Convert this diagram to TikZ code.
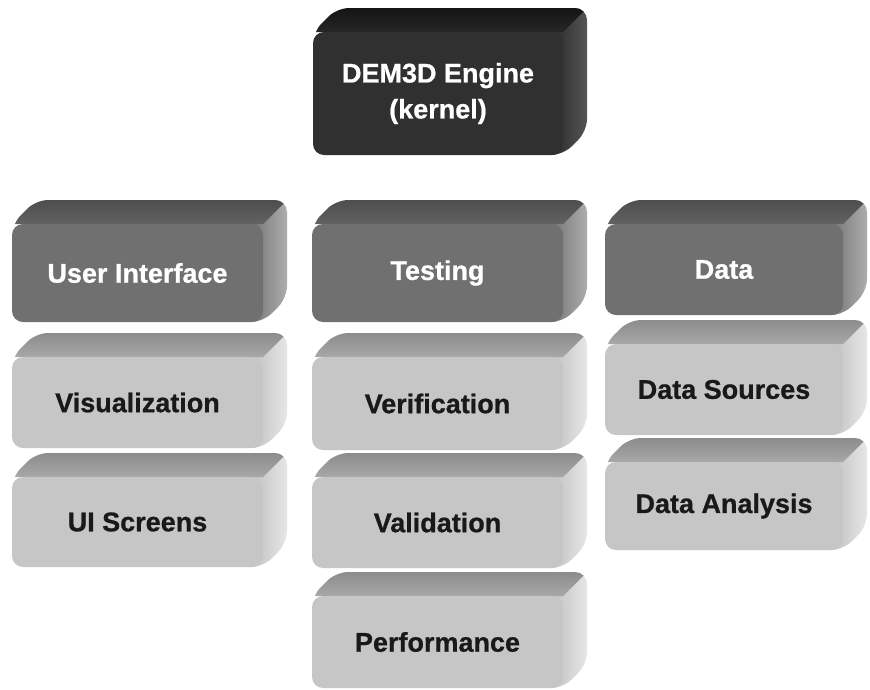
\documentclass[tikz,border=0pt]{standalone}
\usepackage{fontspec}
\setmainfont[BoldFeatures={FakeBold=0.8}]{Liberation Sans}
\usetikzlibrary{calc}

% colour schemes: k = kernel (black), m = group heads (dark grey), l = items (light grey)
\definecolor{kfront}{HTML}{303030}
\definecolor{ktopA}{HTML}{151515}
\definecolor{ktopB}{HTML}{262626}
\definecolor{kside}{HTML}{2A2A2A}
\definecolor{mfront}{HTML}{707070}
\definecolor{mtopA}{HTML}{4E4E4E}
\definecolor{mtopB}{HTML}{626262}
\definecolor{mside}{HTML}{8A8A8A}
\definecolor{lfront}{HTML}{C6C6C6}
\definecolor{ltopA}{HTML}{8C8C8C}
\definecolor{ltopB}{HTML}{A8A8A8}
\definecolor{lside}{HTML}{D6D6D6}

\tikzset{
  k-top/.style={top color=ktopA, bottom color=ktopB},
  k-side/.style={left color=kside, right color=kside!80!white},
  k-front/.style={fill=kfront},
  k-text/.style={text=white, font=\bfseries\fontsize{27}{36}\selectfont, align=center},
  m-top/.style={top color=mtopA, bottom color=mtopB},
  m-side/.style={left color=mside!85!black, right color=mside!70!white},
  m-front/.style={fill=mfront},
  m-text/.style={text=white, font=\bfseries\fontsize{27}{36}\selectfont, align=center},
  l-top/.style={top color=ltopA, bottom color=ltopB},
  l-side/.style={left color=lside!90!black, right color=lside!60!white},
  l-front/.style={fill=lfront},
  l-text/.style={text=black!90, font=\bfseries\fontsize{27}{36}\selectfont, align=center},
}

% depth of the bevelled top and right faces
\def\dd{24}

% #1 name, #2 x0, #3 y0, #4 x1, #5 y1, #6 scheme, #7 text
\newcommand{\blockbox}[7]{%
  \begin{scope}
    \clip[rounded corners=12pt] (#2,#3+\dd) -- (#2+\dd,#3) -- (#4,#3)
         -- (#4,#5-\dd) -- (#4-\dd,#5) -- (#2,#5) -- cycle;
    \shade[#6-side] (#4-\dd-12,#3) rectangle (#4,#5);
    \shade[#6-top] (#2,#3+\dd) -- (#2+\dd,#3) -- (#4,#3) -- (#4-\dd,#3+\dd) -- cycle;
  \end{scope}
  \fill[#6-front, rounded corners=11pt] (#2,#3+\dd) rectangle (#4-\dd,#5);
  \node[#6-text] (#1) at ({(#2+#4-\dd)/2},{(#3+\dd+#5)/2}) {#7};
}

\begin{document}
\begin{tikzpicture}[x=1pt,y=-1pt]
  \useasboundingbox[fill=white] (0,0) rectangle (870,689);

  % core
  \blockbox{kernel}{313}{8}{587}{155}{k}{DEM3D Engine\\(kernel)}

  % group heads
  \blockbox{ui}{12}{200}{287}{322}{m}{User Interface}
  \blockbox{testing}{312}{200}{587}{322}{m}{Testing}
  \blockbox{data}{605}{200}{867}{315}{m}{Data}

  % items under each head
  \blockbox{vis}{12}{333}{287}{448}{l}{Visualization}
  \blockbox{uiscr}{12}{453}{287}{567}{l}{UI Screens}

  \blockbox{verif}{312}{333}{587}{450}{l}{Verification}
  \blockbox{valid}{312}{453}{587}{568}{l}{Validation}
  \blockbox{perf}{312}{572}{587}{688}{l}{Performance}

  \blockbox{datasrc}{605}{320}{867}{435}{l}{Data Sources}
  \blockbox{dataan}{605}{438}{867}{550}{l}{Data Analysis}
\end{tikzpicture}
\end{document}
